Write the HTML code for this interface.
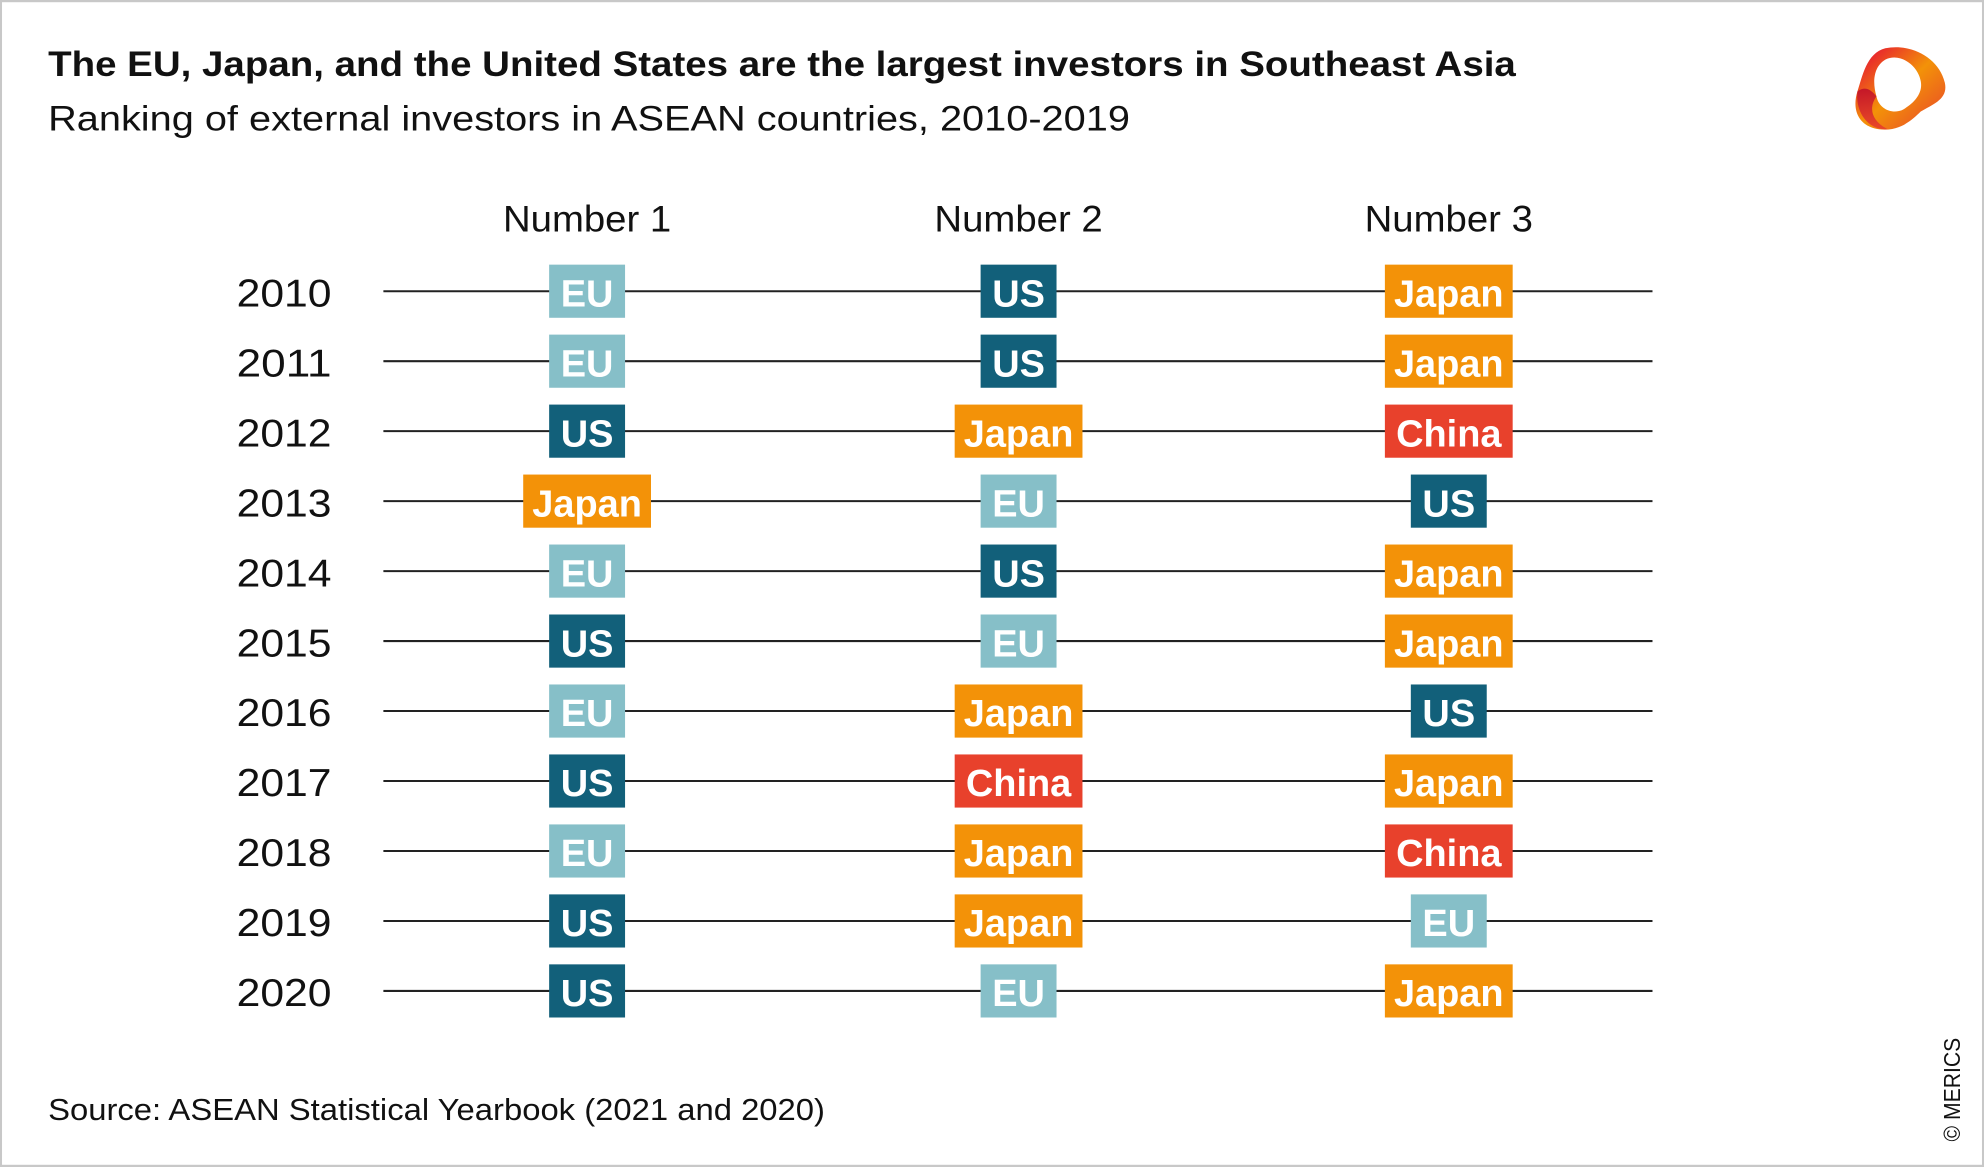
<!DOCTYPE html>
<html><head><meta charset="utf-8"><style>
html,body{margin:0;padding:0;background:#fff}
svg{display:block}
text{font-family:"Liberation Sans",sans-serif}
.yr{font-size:31px;fill:#111;text-anchor:start}
.b{font-size:30px;font-weight:bold;fill:#fff;text-anchor:middle}
.EU{fill:#86bfc8}.US{fill:#12607a}.JP{fill:#f39208}.CN{fill:#e8412c}
</style></head><body>
<svg width="1984" height="1167" viewBox="0 0 1568 922" xmlns="http://www.w3.org/2000/svg">
<defs>
<linearGradient id="g1" x1="0" y1="0" x2="1" y2="1">
<stop offset="0" stop-color="#e4003a"/><stop offset="0.5" stop-color="#f39208"/><stop offset="1" stop-color="#e8412c"/>
</linearGradient>
<linearGradient id="g2" x1="0" y1="0" x2="0" y2="1">
<stop offset="0" stop-color="#c0102a"/><stop offset="1" stop-color="#e8412c"/>
</linearGradient>
<g id="L"><line x1="303" y1="0" x2="1306" y2="0" stroke="#222" stroke-width="1.6"/></g>
</defs>
<rect x="0.6" y="0.6" width="1566.8" height="920.8" fill="#fff" stroke="#c8c8c8" stroke-width="2"/>
<text x="38" y="60" font-size="28" font-weight="bold" fill="#111" textLength="1160" lengthAdjust="spacingAndGlyphs">The EU, Japan, and the United States are the largest investors in Southeast Asia</text>
<text x="38" y="103" font-size="28" fill="#111" textLength="855" lengthAdjust="spacingAndGlyphs">Ranking of external investors in ASEAN countries, 2010-2019</text>
<g>
<path d="M1490 38 C1510 34 1532 45 1537 65 C1540 78 1528 82 1518 88 C1510 96 1500 104 1485 102 C1470 100 1463 88 1468 72 C1472 60 1475 42 1490 38 Z" fill="url(#g1)"/>
<path d="M1490 47 C1502 41 1516 52 1518 64 C1520 74 1512 82 1503 87 C1495 90 1485 86 1483 76 C1480 66 1480 53 1490 47 Z" fill="#fff"/>
<path d="M1468 72 C1466 88 1476 103 1492 102 C1480 96 1476 86 1483 76 C1478 70 1474 68 1468 72 Z" fill="url(#g2)" opacity="0.9"/>
</g>
<g font-size="29" fill="#111" text-anchor="middle">
<text x="464" y="183" textLength="133" lengthAdjust="spacingAndGlyphs">Number 1</text>
<text x="805" y="183" textLength="133" lengthAdjust="spacingAndGlyphs">Number 2</text>
<text x="1145" y="183" textLength="133" lengthAdjust="spacingAndGlyphs">Number 3</text>
</g>

<g transform="translate(0,230)"><use href="#L"/><text class="yr" x="187" y="12" textLength="75" lengthAdjust="spacingAndGlyphs">2010</text>
<rect class="EU" x="434" y="-21" width="60" height="42"/><text class="b" x="464" y="12">EU</text>
<rect class="US" x="775" y="-21" width="60" height="42"/><text class="b" x="805" y="12">US</text>
<rect class="JP" x="1094.5" y="-21" width="101" height="42"/><text class="b" x="1145" y="12">Japan</text></g>
<g transform="translate(0,285.3)"><use href="#L"/><text class="yr" x="187" y="12" textLength="75" lengthAdjust="spacingAndGlyphs">2011</text>
<rect class="EU" x="434" y="-21" width="60" height="42"/><text class="b" x="464" y="12">EU</text>
<rect class="US" x="775" y="-21" width="60" height="42"/><text class="b" x="805" y="12">US</text>
<rect class="JP" x="1094.5" y="-21" width="101" height="42"/><text class="b" x="1145" y="12">Japan</text></g>
<g transform="translate(0,340.6)"><use href="#L"/><text class="yr" x="187" y="12" textLength="75" lengthAdjust="spacingAndGlyphs">2012</text>
<rect class="US" x="434" y="-21" width="60" height="42"/><text class="b" x="464" y="12">US</text>
<rect class="JP" x="754.5" y="-21" width="101" height="42"/><text class="b" x="805" y="12">Japan</text>
<rect class="CN" x="1094.5" y="-21" width="101" height="42"/><text class="b" x="1145" y="12">China</text></g>
<g transform="translate(0,395.9)"><use href="#L"/><text class="yr" x="187" y="12" textLength="75" lengthAdjust="spacingAndGlyphs">2013</text>
<rect class="JP" x="413.5" y="-21" width="101" height="42"/><text class="b" x="464" y="12">Japan</text>
<rect class="EU" x="775" y="-21" width="60" height="42"/><text class="b" x="805" y="12">EU</text>
<rect class="US" x="1115" y="-21" width="60" height="42"/><text class="b" x="1145" y="12">US</text></g>
<g transform="translate(0,451.2)"><use href="#L"/><text class="yr" x="187" y="12" textLength="75" lengthAdjust="spacingAndGlyphs">2014</text>
<rect class="EU" x="434" y="-21" width="60" height="42"/><text class="b" x="464" y="12">EU</text>
<rect class="US" x="775" y="-21" width="60" height="42"/><text class="b" x="805" y="12">US</text>
<rect class="JP" x="1094.5" y="-21" width="101" height="42"/><text class="b" x="1145" y="12">Japan</text></g>
<g transform="translate(0,506.5)"><use href="#L"/><text class="yr" x="187" y="12" textLength="75" lengthAdjust="spacingAndGlyphs">2015</text>
<rect class="US" x="434" y="-21" width="60" height="42"/><text class="b" x="464" y="12">US</text>
<rect class="EU" x="775" y="-21" width="60" height="42"/><text class="b" x="805" y="12">EU</text>
<rect class="JP" x="1094.5" y="-21" width="101" height="42"/><text class="b" x="1145" y="12">Japan</text></g>
<g transform="translate(0,561.8)"><use href="#L"/><text class="yr" x="187" y="12" textLength="75" lengthAdjust="spacingAndGlyphs">2016</text>
<rect class="EU" x="434" y="-21" width="60" height="42"/><text class="b" x="464" y="12">EU</text>
<rect class="JP" x="754.5" y="-21" width="101" height="42"/><text class="b" x="805" y="12">Japan</text>
<rect class="US" x="1115" y="-21" width="60" height="42"/><text class="b" x="1145" y="12">US</text></g>
<g transform="translate(0,617.1)"><use href="#L"/><text class="yr" x="187" y="12" textLength="75" lengthAdjust="spacingAndGlyphs">2017</text>
<rect class="US" x="434" y="-21" width="60" height="42"/><text class="b" x="464" y="12">US</text>
<rect class="CN" x="754.5" y="-21" width="101" height="42"/><text class="b" x="805" y="12">China</text>
<rect class="JP" x="1094.5" y="-21" width="101" height="42"/><text class="b" x="1145" y="12">Japan</text></g>
<g transform="translate(0,672.4)"><use href="#L"/><text class="yr" x="187" y="12" textLength="75" lengthAdjust="spacingAndGlyphs">2018</text>
<rect class="EU" x="434" y="-21" width="60" height="42"/><text class="b" x="464" y="12">EU</text>
<rect class="JP" x="754.5" y="-21" width="101" height="42"/><text class="b" x="805" y="12">Japan</text>
<rect class="CN" x="1094.5" y="-21" width="101" height="42"/><text class="b" x="1145" y="12">China</text></g>
<g transform="translate(0,727.7)"><use href="#L"/><text class="yr" x="187" y="12" textLength="75" lengthAdjust="spacingAndGlyphs">2019</text>
<rect class="US" x="434" y="-21" width="60" height="42"/><text class="b" x="464" y="12">US</text>
<rect class="JP" x="754.5" y="-21" width="101" height="42"/><text class="b" x="805" y="12">Japan</text>
<rect class="EU" x="1115" y="-21" width="60" height="42"/><text class="b" x="1145" y="12">EU</text></g>
<g transform="translate(0,783)"><use href="#L"/><text class="yr" x="187" y="12" textLength="75" lengthAdjust="spacingAndGlyphs">2020</text>
<rect class="US" x="434" y="-21" width="60" height="42"/><text class="b" x="464" y="12">US</text>
<rect class="EU" x="775" y="-21" width="60" height="42"/><text class="b" x="805" y="12">EU</text>
<rect class="JP" x="1094.5" y="-21" width="101" height="42"/><text class="b" x="1145" y="12">Japan</text></g>

<text x="38" y="885" font-size="24" fill="#111" textLength="614" lengthAdjust="spacingAndGlyphs">Source: ASEAN Statistical Yearbook (2021 and 2020)</text>
<text transform="translate(1549,902) rotate(-90)" font-size="18" fill="#111" textLength="82" lengthAdjust="spacingAndGlyphs">© MERICS</text>
</svg>
</body></html>
